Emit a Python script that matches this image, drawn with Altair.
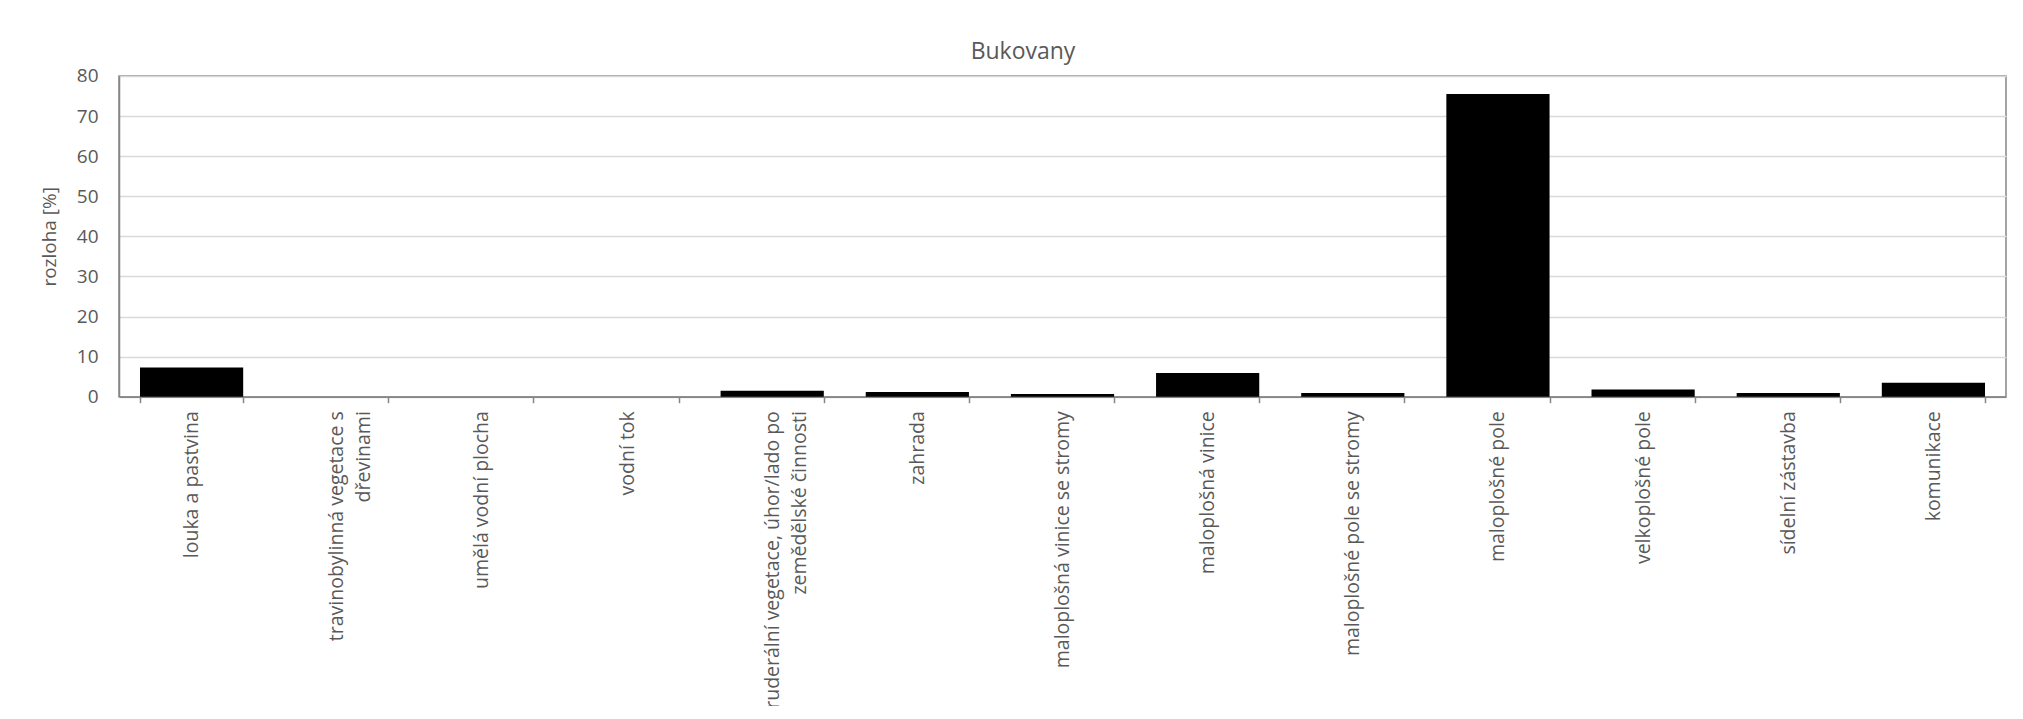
import altair as alt
import pandas as pd

categories = [
    "louka a pastvina",
    "travinobylinná vegetace s\ndřevinami",
    "umělá vodní plocha",
    "vodní tok",
    "ruderální vegetace, úhor/lado po\nzemědělské činnosti",
    "zahrada",
    "maloplošná vinice se stromy",
    "maloplošná vinice",
    "maloplošné pole se stromy",
    "maloplošné pole",
    "velkoplošné pole",
    "sídelní zástavba",
    "komunikace",
]
values = [7.3, 0, 0, 0, 1.5, 1.2, 0.7, 5.9, 0.9, 75.5, 1.8, 0.9, 3.5]
y_ticks = [0, 10, 20, 30, 40, 50, 60, 70, 80]
chart_title = "Bukovany"
y_title = "rozloha [%]"

df = pd.DataFrame({"kategorie": categories, "rozloha": values})

TEXT = "#595959"
LINE = "#868686"
FONT = "Open Sans"

chart = (
    alt.Chart(df)
    .mark_bar(color="black")
    .encode(
        x=alt.X(
            "kategorie:N",
            sort=categories,
            title=None,
            scale=alt.Scale(paddingInner=0.289, paddingOuter=0.1445),
            axis=alt.Axis(
                labelAngle=-90,
                labelAlign="right",
                labelBaseline="middle",
                labelExpr="split(datum.label, '\\n')",
                labelFont=FONT,
                labelFontSize=19.5,
                labelColor=TEXT,
                labelPadding=8,
                labelLineHeight=27,
                labelLimit=0,
                labelOverlap=False,
                tickBand="extent",
                tickSize=6,
                tickColor=LINE,
                tickWidth=1.5,
                domainColor=LINE,
                domainWidth=1.5,
                grid=False,
            ),
        ),
        y=alt.Y(
            "rozloha:Q",
            title=y_title,
            scale=alt.Scale(domain=[0, 80], nice=False),
            axis=alt.Axis(
                values=y_ticks,
                ticks=False,
                tickSize=0,
                labelPadding=21,
                labelFont=FONT,
                labelFontSize=19,
                labelColor=TEXT,
                titleFont=FONT,
                titleFontSize=19,
                titleFontWeight="normal",
                titleColor=TEXT,
                titlePadding=17,
                domainColor=LINE,
                domainWidth=1.5,
                gridColor="#d9d9d9",
                gridWidth=1.5,
            ),
        ),
    )
    .properties(
        width=1887,
        height=320.7,
        title=alt.TitleParams(
            text=chart_title,
            font=FONT,
            fontSize=23,
            fontWeight="normal",
            color=TEXT,
            anchor="middle",
            frame="group",
            dx=-39.5,
            baseline="alphabetic",
            offset=-15,
        ),
        autosize=alt.AutoSizeParams(type="none"),
        padding={"left": 111, "top": 68, "right": 5, "bottom": 309},
    )
    .configure_view(stroke=LINE, strokeWidth=1.5)
)

chart.save("out.html", embed_options={"renderer": "svg", "actions": False})
